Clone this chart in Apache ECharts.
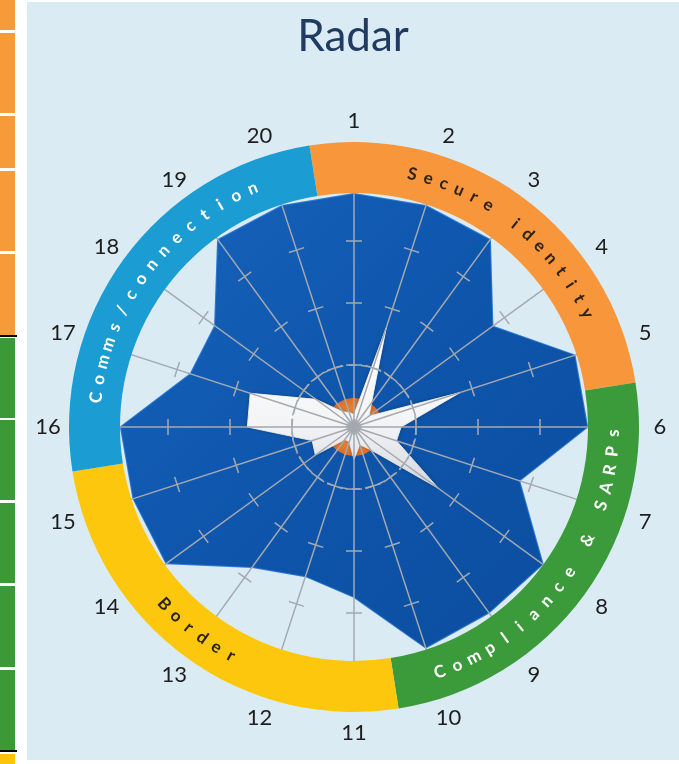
<!DOCTYPE html>
<html>
<head>
<meta charset="utf-8">
<title>Radar</title>
<script src="https://cdn.jsdelivr.net/npm/echarts@6/dist/echarts.min.js"></script>
<style>
	html, body { margin: 0; padding: 0; background: #ffffff; }
	#strip { position: absolute; left: 0; top: 0; width: 16px; height: 764px; }
	.cell { position: absolute; left: 0; width: 15px; }
	#chart { position: absolute; left: 27px; top: 2px; width: 652px; height: 758px; background: #dbebf3; }
</style>
</head>
<body>
<div id="strip"></div>
<div id="chart"></div>
<script>
	// axis labels, clockwise from the top
	var axisNames = ['1', '2', '3', '4', '5', '6', '7', '8', '9', '10',
		'11', '12', '13', '14', '15', '16', '17', '18', '19', '20'];
	var axisMax = 4;

	// blue area (outer), orange core, white star
	var targetValues = [3.76, 3.75, 3.73, 2.76, 3.74, 3.76, 2.8, 3.76, 3.7, 3.74,
		2.74, 2.53, 2.79, 3.74, 3.74, 3.76, 2.77, 2.77, 3.73, 3.75];
	var coreValues = [0.47, 0.47, 0.47, 0.47, 0.47, 0.47, 0.47, 0.47, 0.47, 0.47,
		0.47, 0.47, 0.47, 0.47, 0.47, 0.47, 0.47, 0.47, 0.47, 0.47];
	var currentValues = [0.2, 1.68, 0.48, 0.3, 1.8, 0.76, 0.72, 1.68, 0.45, 0.3,
		0.52, 0.25, 0.25, 0.77, 0.71, 1.72, 1.76, 0.76, 0.3, 0.25];

	// ring sections (5 axes each)
	var sectionNames = ['Secure identity', 'Compliance & SARPs', 'Border', 'Comms/connection'];
	var sectionSizes = [5, 5, 5, 5];
	var sectionColors = ['#f7963a', '#3b9b3a', '#fdc70d', '#1b9cd2'];

	// ---- layout ----
	var cx = 327, cy = 425, R = 248;
	var unit = R / axisMax;
	var labelR = 306 / unit;
	var textR = 259.5 / unit;
	var ringText = [
		{ start: 13, step: 3.64, outward: true, color: '#2e2216' },
		{ start: 160.7, step: -4.08, outward: false, color: '#ffffff' },
		{ start: 227, step: -3.75, outward: false, color: '#2a2410' },
		{ start: 276.5, step: 4.03, outward: true, color: '#ffffff' }
	];

	// left spreadsheet strip
	var cellRows = [[0, 30, '#f79a38'], [33, 113, '#f79a38'], [116, 168, '#f79a38'], [171, 251, '#f79a38'],
		[254, 335, '#f79a38'], [335, 337, '#000'], [338, 418, '#3b9a37'], [420, 500, '#3b9a37'],
		[503, 583, '#3b9a37'], [586, 667, '#3b9a37'], [670, 750, '#3b9a37'], [750, 752, '#000'],
		[754, 764, '#fcc40a']];
	var strip = document.getElementById('strip');
	cellRows.forEach(function(c) {
		var d = document.createElement('div');
		d.className = 'cell';
		d.style.top = c[0] + 'px';
		d.style.height = (c[1] - c[0]) + 'px';
		d.style.background = c[2];
		if (c[2] == '#000') d.style.width = '17px';
		strip.appendChild(d);
	});

	// echarts radar goes counter-clockwise, so feed it 1,20,19,...,2
	var order = [0];
	for (var k = axisNames.length - 1; k > 0; k--) order.push(k);
	function reorder(arr) {
		return order.map(function(i) { return arr[i]; });
	}

	// labels: [radius, angle] in the polar system
	var labelItems = [];
	axisNames.forEach(function(n, i) {
		labelItems.push({ r: labelR, a: i * 360 / axisNames.length, text: n, rot: 0,
			color: '#1e1e1e', size: 22, weight: 'normal' });
	});
	sectionNames.forEach(function(name, s) {
		var t = ringText[s];
		for (var j = 0; j < name.length; j++) {
			var a = t.start + t.step * j;
			var rot = t.outward ? -a : 180 - a;
			labelItems.push({ r: textR, a: a, text: name[j], rot: rot * Math.PI / 180,
				color: t.color, size: 17, weight: 'bold' });
		}
	});

	var gray = '#a4a9b0';
	var radarBase = {
		center: [cx, cy],
		radius: R,
		startAngle: 90,
		splitNumber: 4,
		shape: 'circle',
		z: 3,
		indicator: reorder(axisNames).map(function(n) {
			return { name: n, min: 0, max: axisMax };
		}),
		axisName: { show: false },
		splitArea: { show: false }
	};

	var chart = echarts.init(document.getElementById('chart'));
	chart.setOption({
		animation: false,
		title: {
			text: 'Radar',
			left: 'center',
			top: 8,
			textStyle: { fontFamily: 'Lato', fontSize: 44, fontWeight: 'normal', color: '#1f3b62' }
		},
		radar: [
			Object.assign({}, radarBase, {
				axisLine: { lineStyle: { color: gray, width: 1.5 } },
				axisTick: { show: true, length: 8, lineStyle: { color: gray, width: 1.5 } },
				splitLine: {
					lineStyle: {
						color: ['rgba(0,0,0,0)', '#a2abb8', 'rgba(0,0,0,0)', 'rgba(0,0,0,0)', 'rgba(0,0,0,0)'],
						type: [8, 5],
						width: 1.5
					}
				}
			}),
			// second copy only for the other half of each tick cross
			Object.assign({}, radarBase, {
				axisLine: { show: false },
				axisTick: { show: true, length: -8, lineStyle: { color: gray, width: 1.5 } },
				splitLine: { show: false }
			})
		],
		polar: { center: [cx, cy], radius: R },
		angleAxis: { type: 'value', min: 0, max: 360, startAngle: 90, clockwise: true, show: false },
		radiusAxis: { type: 'value', min: 0, max: axisMax, show: false },
		series: [{
				type: 'radar',
				radarIndex: 0,
				symbol: 'none',
				z: 2,
				silent: true,
				data: [{
					value: reorder(targetValues),
					lineStyle: { color: '#2f7bd3', width: 2 },
					areaStyle: {
						opacity: 1,
						color: new echarts.graphic.LinearGradient(0, 0, 1, 1, [
							{ offset: 0, color: '#1763bd' },
							{ offset: 0.5, color: '#0e55ab' },
							{ offset: 1, color: '#0b4d9f' }
						])
					}
				}]
			},
			{
				type: 'radar',
				radarIndex: 0,
				symbol: 'none',
				z: 2,
				silent: true,
				data: [{
					value: reorder(coreValues),
					lineStyle: { width: 0 },
					areaStyle: {
						opacity: 1,
						color: new echarts.graphic.RadialGradient(0.5, 0.5, 0.5, [
							{ offset: 0, color: '#f6a355' },
							{ offset: 1, color: '#de6d22' }
						])
					}
				}]
			},
			{
				type: 'radar',
				radarIndex: 0,
				symbol: 'none',
				z: 2,
				silent: true,
				data: [{
					value: reorder(currentValues),
					lineStyle: { color: '#ffffff', width: 1 },
					areaStyle: {
						opacity: 1,
						shadowBlur: 4,
						shadowColor: 'rgba(0,0,0,0.3)',
						color: new echarts.graphic.LinearGradient(0, 0, 0, 1, [
							{ offset: 0, color: '#ffffff' },
							{ offset: 0.6, color: '#f3f4f6' },
							{ offset: 1, color: '#d3d7dd' }
						])
					}
				}]
			},
			{
				type: 'pie',
				center: [cx, cy],
				radius: [234, 285],
				startAngle: 99,
				clockwise: true,
				silent: true,
				z: 4,
				label: { show: false },
				labelLine: { show: false },
				itemStyle: { borderWidth: 0 },
				data: sectionNames.map(function(n, i) {
					return { name: n, value: sectionSizes[i], itemStyle: { color: sectionColors[i] } };
				})
			},
			{
				type: 'custom',
				coordinateSystem: 'polar',
				silent: true,
				z: 5,
				clip: false,
				data: labelItems.map(function(d) { return [d.r, d.a]; }),
				renderItem: function(params, api) {
					var d = labelItems[params.dataIndex];
					var p = api.coord([api.value(0), api.value(1)]);
					return {
						type: 'text',
						x: p[0],
						y: p[1],
						rotation: d.rot,
						style: {
							text: d.text,
							fill: d.color,
							fontFamily: 'Lato',
							fontSize: d.size,
							fontWeight: d.weight,
							align: 'center',
							verticalAlign: 'middle'
						}
					};
				}
			}
		]
	});
</script>
</body>
</html>
